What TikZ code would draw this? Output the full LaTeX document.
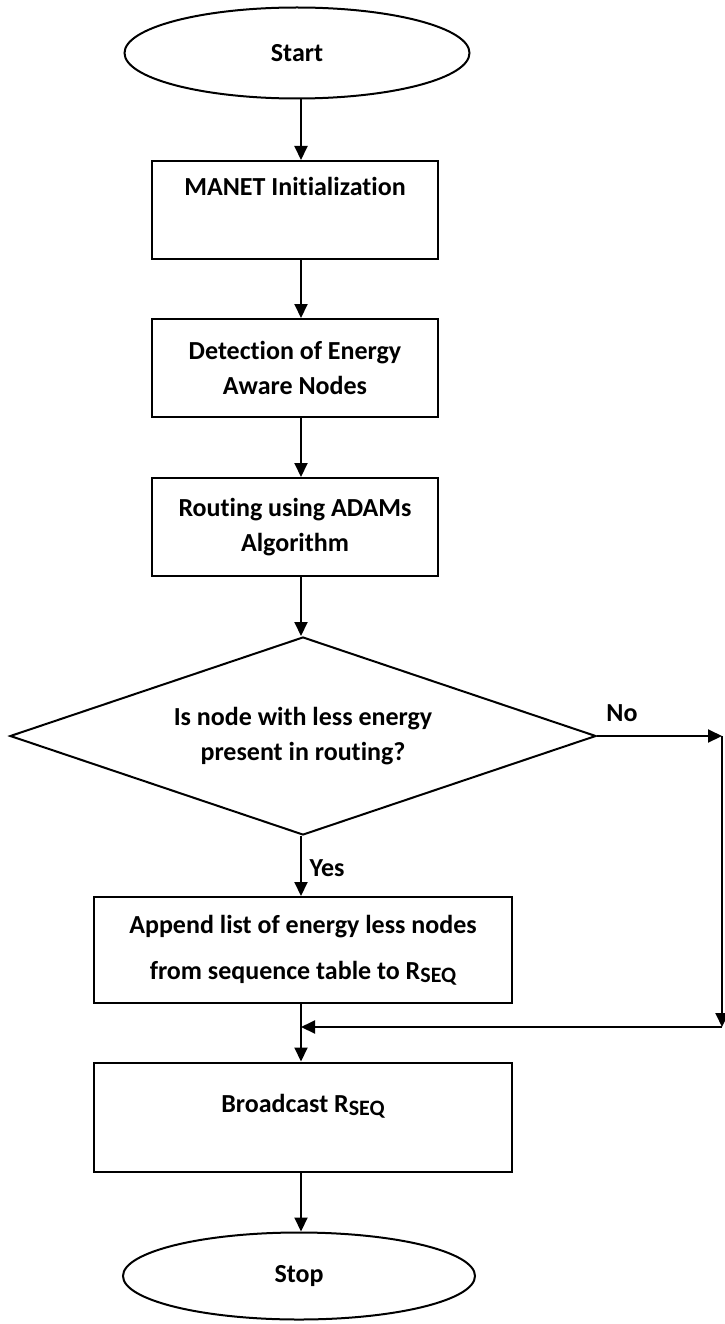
\documentclass[tikz,border=0pt]{standalone}
\usepackage{fontspec}
\setmainfont{Carlito}[Ligatures=NoCommon]
\usetikzlibrary{shapes.geometric,arrows.meta}

\newcommand{\rseq}{R\raisebox{-3pt}{\fontsize{22}{22}\selectfont SEQ}}

\begin{document}
\begin{tikzpicture}
	[x=1pt,y=-1pt,
	line width=2pt,
	every node/.style={font=\bfseries\fontsize{26}{35}\selectfont,align=center,inner sep=0pt},
	term/.style={draw,ellipse,minimum height=91pt},
	stepbox/.style={draw,rectangle,minimum width=286pt,minimum height=98pt},
	widebox/.style={draw,rectangle,minimum width=418pt},
	decision/.style={draw,diamond,aspect=3,minimum width=586pt,minimum height=198pt},
	flow/.style={-{Triangle[length=14pt,width=13pt]}}
	]
	\useasboundingbox (0,0) rectangle (724,1324);
	\coordinate (axis) at (301,0);
	\node[term,minimum width=345pt] (start) at (297,53) {Start};
	\node[stepbox,text height=18pt,text depth=46pt] (init) at (295,210) {MANET Initialization};
	\node[stepbox] (detect) at (295,368) {Detection of Energy\\Aware Nodes};
	\node[stepbox] (route) at (295,527) {Routing using ADAMs\\Algorithm};
	\node[decision] (decide) at (303,736) {Is node with less energy\\present in routing?};
	\node[widebox,minimum height=106pt] (append) at (303,950) {Append list of energy less nodes\\[11pt]from sequence table to \rseq};
	\node[widebox,minimum height=109pt,text height=18pt,text depth=28pt] (bcast) at (303,1117) {Broadcast \rseq};
	\node[term,minimum width=352pt,minimum height=87pt] (stop) at (299,1276) {Stop};
	\node (no) at (622,713) {No};
	\node (yes) at (327,868) {Yes};
	\coordinate (noend) at (722,736);
	\coordinate (back) at (722,1027);
	\draw[flow] (start.south -| axis) -- (init.north -| axis);
	\draw[flow] (init.south -| axis) -- (detect.north -| axis);
	\draw[flow] (detect.south -| axis) -- (route.north -| axis);
	\draw[flow] (route.south -| axis) -- (decide.north -| axis);
	\draw[flow] (decide.south -| axis) -- (append.north -| axis);
	\draw[flow] (decide.east) -- (noend);
	\draw[flow] (noend) -- (back);
	\draw[flow] (back) -- (back -| axis);
	\draw[flow] (append.south -| axis) -- (bcast.north -| axis);
	\draw[flow] (bcast.south -| axis) -- (stop.north -| axis);
\end{tikzpicture}
\end{document}
